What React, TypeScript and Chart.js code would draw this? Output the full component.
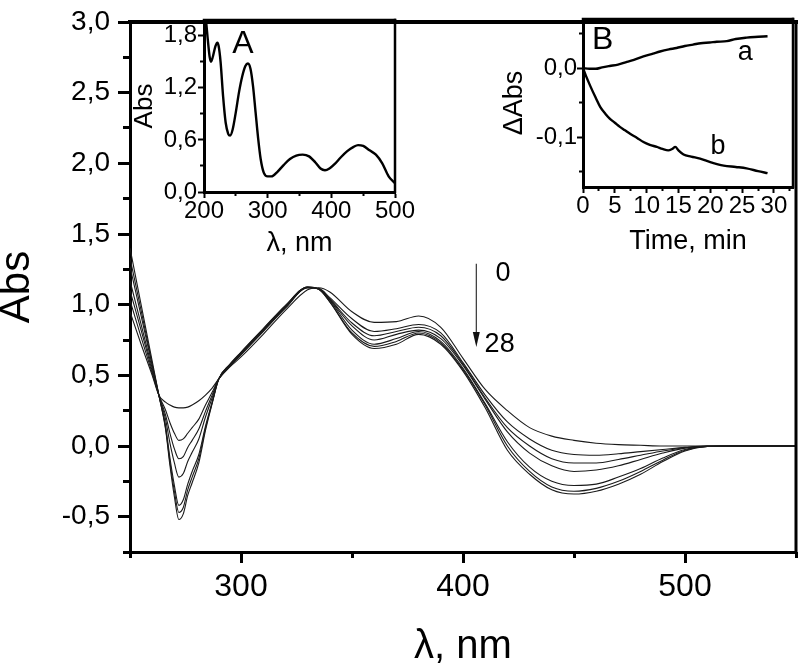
import React, { useEffect, useRef } from 'react';
import { Chart, registerables } from 'chart.js';

Chart.register(...registerables);

const FONT = "'Liberation Sans', Arial, Helvetica, sans-serif";

// ---------- Main chart data (wavelength, nm) ----------
const WL = [250, 255, 260, 263, 266, 268, 270, 272, 274, 276, 278, 281, 284, 287, 290, 295, 300, 310, 320, 330, 335, 340, 350, 360, 370, 380, 390, 400, 410, 420, 430, 440, 450, 460, 470, 480, 490, 500, 510, 520, 535, 550];
const T0 = [0.95, 0.72, 0.50, 0.36, 0.31, 0.29, 0.275, 0.27, 0.27, 0.275, 0.29, 0.32, 0.36, 0.41, 0.475, 0.56, 0.63, 0.79, 0.96, 1.105, 1.12, 1.09, 0.95, 0.875, 0.88, 0.92, 0.84, 0.62, 0.40, 0.25, 0.13, 0.07, 0.04, 0.02, 0.01, 0.005, 0.0, 0.0, 0.0, 0.0, 0.0, 0.0];
const T1 = [1.03, 0.77, 0.515, 0.36, 0.255, 0.165, 0.09, 0.04, 0.05, 0.09, 0.13, 0.19, 0.29, 0.38, 0.475, 0.565, 0.645, 0.81, 0.975, 1.12, 1.115, 1.05, 0.90, 0.81, 0.83, 0.86, 0.80, 0.59, 0.36, 0.17, 0.05, -0.03, -0.06, -0.065, -0.055, -0.04, -0.025, -0.01, 0.0, 0.0, 0.0, 0.0];
const T2 = [1.10, 0.82, 0.53, 0.36, 0.22, 0.09, -0.02, -0.09, -0.075, -0.01, 0.04, 0.12, 0.245, 0.36, 0.475, 0.565, 0.65, 0.815, 0.98, 1.12, 1.11, 1.04, 0.87, 0.78, 0.81, 0.84, 0.78, 0.58, 0.34, 0.13, 0.0, -0.09, -0.12, -0.12, -0.095, -0.065, -0.035, -0.012, -0.002, 0.0, 0.0, 0.0];
const T3 = [1.17, 0.86, 0.55, 0.36, 0.19, 0.02, -0.12, -0.22, -0.195, -0.11, -0.045, 0.05, 0.205, 0.34, 0.475, 0.57, 0.655, 0.82, 0.985, 1.12, 1.11, 1.035, 0.85, 0.75, 0.79, 0.82, 0.76, 0.57, 0.33, 0.10, -0.05, -0.14, -0.18, -0.17, -0.14, -0.095, -0.05, -0.015, -0.002, 0.0, 0.0, 0.0];
const T4 = [1.27, 0.92, 0.57, 0.36, 0.145, -0.085, -0.28, -0.42, -0.38, -0.27, -0.18, -0.06, 0.14, 0.31, 0.475, 0.575, 0.66, 0.825, 0.99, 1.125, 1.11, 1.03, 0.82, 0.72, 0.76, 0.81, 0.74, 0.55, 0.30, 0.03, -0.15, -0.25, -0.28, -0.27, -0.22, -0.16, -0.085, -0.025, -0.003, 0.0, 0.0, 0.0];
const T5 = [1.33, 0.96, 0.58, 0.36, 0.13, -0.115, -0.32, -0.47, -0.435, -0.31, -0.22, -0.09, 0.125, 0.305, 0.475, 0.575, 0.66, 0.825, 0.99, 1.125, 1.11, 1.02, 0.80, 0.705, 0.74, 0.80, 0.73, 0.54, 0.29, 0.0, -0.18, -0.29, -0.32, -0.30, -0.25, -0.18, -0.10, -0.03, -0.003, 0.0, 0.0, 0.0];
const T6 = [1.40, 1.00, 0.60, 0.36, 0.12, -0.14, -0.36, -0.52, -0.48, -0.35, -0.26, -0.12, 0.11, 0.30, 0.475, 0.58, 0.665, 0.83, 0.995, 1.125, 1.11, 1.02, 0.79, 0.69, 0.72, 0.79, 0.72, 0.53, 0.27, -0.03, -0.20, -0.31, -0.34, -0.32, -0.27, -0.20, -0.11, -0.035, -0.004, 0.0, 0.0, 0.0];
const MAIN_SERIES = [T0, T1, T2, T3, T4, T5, T6];

const MAIN_X_MAJOR = [300, 400, 500];
const MAIN_X_MINOR = [250, 350, 450, 550];
const MAIN_Y_MAJOR = [-0.5, 0, 0.5, 1.0, 1.5, 2.0, 2.5, 3.0];
const MAIN_Y_MINOR = [-0.75, -0.25, 0.25, 0.75, 1.25, 1.75, 2.25, 2.75];

const ARROW_X = 406;
const ARROW_FROM = 1.29;
const ARROW_TO = 0.70;
const ARROW_LABELS = [
  { text: '0', x: 418, y: 1.22 },
  { text: '28', x: 416.5, y: 0.72 },
];

// ---------- Inset A data ----------
const A_WL = [200, 203, 206, 209, 211, 214, 218, 221, 223, 226, 230, 234, 238, 241, 245, 250, 255, 260, 265, 269, 273, 277, 281, 285, 289, 294, 300, 306, 315, 325, 335, 345, 355, 365, 375, 383, 390, 397, 405, 415, 425, 435, 442, 450, 460, 470, 480, 490, 500];
const A_ABS = [2.10, 1.98, 1.75, 1.55, 1.50, 1.56, 1.68, 1.72, 1.68, 1.50, 1.10, 0.80, 0.67, 0.65, 0.72, 0.92, 1.15, 1.33, 1.45, 1.48, 1.42, 1.22, 0.92, 0.62, 0.38, 0.22, 0.18, 0.18, 0.23, 0.31, 0.38, 0.42, 0.43, 0.41, 0.34, 0.27, 0.25, 0.27, 0.32, 0.40, 0.47, 0.52, 0.54, 0.53, 0.48, 0.43, 0.33, 0.18, 0.10];
const A_X_MAJOR = [200, 300, 400, 500];
const A_X_MINOR = [250, 350, 450];
const A_Y_MAJOR = [0, 0.6, 1.2, 1.8];
const A_Y_MINOR = [0.3, 0.9, 1.5];
const A_LABELS = [{ text: 'A', x: 261, y: 1.70 }];

// ---------- Inset B data ----------
const B_TIME_A = [0, 1, 2, 3, 4.2, 5.5, 6.9, 8, 9.5, 11, 12.1, 13.5, 14.7, 16, 17.3, 18.5, 19.9, 21, 22.6, 24, 25.7, 27, 29];
const B_DABS_A = [0, -0.001, -0.001, 0.001, 0.003, 0.005, 0.009, 0.012, 0.017, 0.021, 0.024, 0.027, 0.029, 0.032, 0.034, 0.036, 0.037, 0.038, 0.039, 0.042, 0.044, 0.045, 0.046];
const B_TIME_B = [0, 0.5, 1.1, 2, 2.7, 3.5, 4.2, 5, 5.8, 6.6, 7.4, 8.5, 9.5, 10.5, 11.6, 12.5, 13.4, 14, 14.5, 15, 15.8, 17, 18.4, 20, 22.1, 24, 25.7, 27.5, 29];
const B_DABS_B = [0, -0.012, -0.025, -0.043, -0.056, -0.066, -0.073, -0.079, -0.085, -0.090, -0.095, -0.101, -0.107, -0.111, -0.114, -0.117, -0.119, -0.117, -0.114, -0.119, -0.125, -0.128, -0.131, -0.136, -0.141, -0.143, -0.145, -0.149, -0.152];
const B_X_MAJOR = [0, 5, 10, 15, 20, 25, 30];
const B_X_MINOR = [2.5, 7.5, 12.5, 17.5, 22.5, 27.5, 32.5];
const B_Y_MAJOR = [0, -0.1];
const B_Y_MINOR = [0.05, -0.05, -0.15];
const B_LABELS = [
  { text: 'B', x: 3.1, y: 0.041, size: 32 },
  { text: 'a', x: 25.5, y: 0.022, size: 27 },
  { text: 'b', x: 21.2, y: -0.114, size: 27 },
];

const fmtComma = (v: number) => v.toFixed(1).replace('.', ',');
const fmtInt = (v: number) => String(Math.round(v));

type AxisSpec = {
  min: number; max: number; major: number[]; minor: number[];
  fmt: (v: number) => string; size: number; majorLen: number; minorLen: number;
  pad: number; fontSize: number; title: string; titleSize: number; titlePad: number;
  titleLH?: number;
};

function buildScales(xs: AxisSpec, ys: AxisSpec, borderW: number, tickW: number) {
  return {
    x: {
      type: 'linear', position: 'bottom', min: xs.min, max: xs.max,
      afterBuildTicks: (s: any) => { s.ticks = xs.major.map((v) => ({ value: v })); },
      afterFit: (s: any) => { s.height = xs.size; },
      ticks: {
        color: '#000', font: { family: FONT, size: xs.fontSize, lineHeight: 1 }, padding: xs.pad,
        maxRotation: 0, autoSkip: false, callback: (v: any) => xs.fmt(Number(v)),
      },
      grid: { drawOnChartArea: false, drawTicks: true, tickLength: xs.majorLen, tickWidth: tickW, tickColor: '#000' },
      border: { display: true, width: borderW, color: '#000' },
      title: {
        display: true, text: xs.title, color: '#000',
        font: { family: FONT, size: xs.titleSize, lineHeight: xs.titleLH ?? 1 },
        padding: { top: 0, bottom: xs.titlePad },
      },
    },
    x2: {
      type: 'linear', axis: 'x', position: { y: ys.min }, min: xs.min, max: xs.max,
      afterBuildTicks: (s: any) => { s.ticks = xs.minor.map((v) => ({ value: v })); },
      ticks: { display: false },
      grid: { drawOnChartArea: false, drawTicks: true, tickLength: xs.minorLen, tickWidth: tickW, tickColor: '#000' },
      border: { display: false },
    },
    y: {
      type: 'linear', position: 'left', min: ys.min, max: ys.max,
      afterBuildTicks: (s: any) => { s.ticks = ys.major.map((v) => ({ value: v })); },
      afterFit: (s: any) => { s.width = ys.size; },
      ticks: {
        color: '#000', font: { family: FONT, size: ys.fontSize, lineHeight: 1 }, padding: ys.pad,
        autoSkip: false, callback: (v: any) => ys.fmt(Number(v)),
      },
      grid: { drawOnChartArea: false, drawTicks: true, tickLength: ys.majorLen, tickWidth: tickW, tickColor: '#000' },
      border: { display: true, width: borderW, color: '#000' },
      title: {
        display: true, text: ys.title, color: '#000',
        font: { family: FONT, size: ys.titleSize, lineHeight: ys.titleLH ?? 1 },
        padding: { top: ys.titlePad, bottom: 0 },
      },
    },
    y2: {
      type: 'linear', axis: 'y', position: { x: xs.min }, min: ys.min, max: ys.max,
      afterBuildTicks: (s: any) => { s.ticks = ys.minor.map((v) => ({ value: v })); },
      ticks: { display: false },
      grid: { drawOnChartArea: false, drawTicks: true, tickLength: ys.minorLen, tickWidth: tickW, tickColor: '#000' },
      border: { display: false },
    },
  };
}

// Frame lines along top and right of the plot area
const framePlugin = {
  id: 'frame',
  afterDraw(chart: any, _args: any, opts: any) {
    const { ctx, chartArea } = chart;
    const { left, right, top, bottom } = chartArea;
    ctx.save();
    ctx.strokeStyle = '#000';
    ctx.lineCap = 'square';
    ctx.lineWidth = opts.top || 2;
    ctx.beginPath();
    ctx.moveTo(left, top);
    ctx.lineTo(right, top);
    ctx.stroke();
    ctx.lineWidth = opts.right || 2;
    ctx.beginPath();
    ctx.moveTo(right, top);
    ctx.lineTo(right, bottom);
    ctx.stroke();
    ctx.restore();
  },
};

// Text labels placed in data coordinates
const textPlugin = {
  id: 'dataText',
  afterDatasetsDraw(chart: any, _args: any, opts: any) {
    const items = opts.items || [];
    const { ctx, scales } = chart;
    ctx.save();
    ctx.fillStyle = '#000';
    ctx.textAlign = 'center';
    ctx.textBaseline = 'middle';
    items.forEach((it: any) => {
      ctx.font = `${it.size || opts.size || 27}px ${FONT}`;
      ctx.fillText(it.text, scales.x.getPixelForValue(it.x), scales.y.getPixelForValue(it.y));
    });
    ctx.restore();
  },
};

// Arrow (time direction) in data coordinates
const arrowPlugin = {
  id: 'timeArrow',
  afterDatasetsDraw(chart: any, _args: any, opts: any) {
    if (!opts || opts.x === undefined) return;
    const { ctx, scales } = chart;
    const ax = scales.x.getPixelForValue(opts.x);
    const y1 = scales.y.getPixelForValue(opts.from);
    const y2 = scales.y.getPixelForValue(opts.to);
    ctx.save();
    ctx.strokeStyle = '#333';
    ctx.fillStyle = '#111';
    ctx.lineWidth = 1.2;
    ctx.beginPath();
    ctx.moveTo(ax, y1);
    ctx.lineTo(ax, y2 - 12);
    ctx.stroke();
    ctx.beginPath();
    ctx.moveTo(ax - 3.5, y2 - 15);
    ctx.lineTo(ax + 3.5, y2 - 15);
    ctx.lineTo(ax, y2);
    ctx.closePath();
    ctx.fill();
    ctx.restore();
  },
};

function zip(xs: number[], ys: number[]) {
  return xs.map((x, i) => ({ x, y: ys[i] }));
}

export default function App() {
  const mainRef = useRef<HTMLCanvasElement>(null);
  const aRef = useRef<HTMLCanvasElement>(null);
  const bRef = useRef<HTMLCanvasElement>(null);

  useEffect(() => {
    const charts: Chart[] = [];

    // Main chart
    const mainScales = buildScales(
      { min: 250, max: 550, major: MAIN_X_MAJOR, minor: MAIN_X_MINOR, fmt: fmtInt, size: 117, majorLen: 11, minorLen: 6, pad: 8, fontSize: 32, title: 'λ, nm', titleSize: 40, titlePad: 2 },
      { min: -0.75, max: 3.0, major: MAIN_Y_MAJOR, minor: MAIN_Y_MINOR, fmt: fmtComma, size: 130, majorLen: 12, minorLen: 7, pad: 8, fontSize: 28, title: 'Abs', titleSize: 42, titlePad: 0, titleLH: 0.85 },
      3, 3,
    );
    charts.push(new Chart(mainRef.current!, {
      type: 'line',
      data: {
        datasets: MAIN_SERIES.map((s, i) => ({
          label: `t${i}`,
          data: zip(WL, s),
          borderColor: '#1a1a1a',
          borderWidth: 1.1,
          pointRadius: 0,
          fill: false,
          cubicInterpolationMode: 'monotone',
        })),
      },
      options: {
        animation: false,
        responsive: false,
        maintainAspectRatio: false,
        parsing: false,
        layout: { padding: { left: 0, right: 4, top: 16, bottom: 0 } },
        plugins: {
          legend: { display: false },
          tooltip: { enabled: false },
          frame: { top: 4, right: 3 },
          timeArrow: { x: ARROW_X, from: ARROW_FROM, to: ARROW_TO },
          dataText: { items: ARROW_LABELS, size: 27 },
        } as any,
        scales: mainScales as any,
      },
      plugins: [framePlugin, arrowPlugin, textPlugin],
    } as any));

    // Inset A
    const aScales = buildScales(
      { min: 200, max: 500, major: A_X_MAJOR, minor: A_X_MINOR, fmt: fmtInt, size: 70, majorLen: 6, minorLen: 4, pad: 1, fontSize: 24, title: 'λ, nm', titleSize: 27, titlePad: 5 },
      { min: 0, max: 1.98, major: A_Y_MAJOR, minor: A_Y_MINOR, fmt: fmtComma, size: 74, majorLen: 6, minorLen: 4, pad: 1, fontSize: 24, title: 'Abs', titleSize: 26, titlePad: 2 },
      3, 2,
    );
    charts.push(new Chart(aRef.current!, {
      type: 'line',
      data: {
        datasets: [{
          label: 'A',
          data: zip(A_WL, A_ABS),
          borderColor: '#000',
          borderWidth: 2.4,
          pointRadius: 0,
          fill: false,
          cubicInterpolationMode: 'monotone',
        }],
      },
      options: {
        animation: false,
        responsive: false,
        maintainAspectRatio: false,
        parsing: false,
        layout: { padding: { left: 0, right: 35, top: 20, bottom: 0 } },
        plugins: {
          legend: { display: false },
          tooltip: { enabled: false },
          frame: { top: 2.5, right: 2.5 },
          dataText: { items: A_LABELS, size: 32 },
        } as any,
        scales: aScales as any,
      },
      plugins: [framePlugin, textPlugin],
    } as any));

    // Inset B
    const bScales = buildScales(
      { min: 0, max: 33, major: B_X_MAJOR, minor: B_X_MINOR, fmt: fmtInt, size: 75, majorLen: 6, minorLen: 4, pad: 1, fontSize: 24, title: 'Time, min', titleSize: 27, titlePad: 7 },
      { min: -0.172, max: 0.071, major: B_Y_MAJOR, minor: B_Y_MINOR, fmt: fmtComma, size: 103, majorLen: 6, minorLen: 4, pad: 0, fontSize: 24, title: 'ΔAbs', titleSize: 27, titlePad: 21 },
      3, 2,
    );
    charts.push(new Chart(bRef.current!, {
      type: 'line',
      data: {
        datasets: [
          { label: 'a', data: zip(B_TIME_A, B_DABS_A), borderColor: '#000', borderWidth: 2.4, pointRadius: 0, fill: false, cubicInterpolationMode: 'monotone' },
          { label: 'b', data: zip(B_TIME_B, B_DABS_B), borderColor: '#000', borderWidth: 2.4, pointRadius: 0, fill: false, cubicInterpolationMode: 'monotone' },
        ],
      },
      options: {
        animation: false,
        responsive: false,
        maintainAspectRatio: false,
        parsing: false,
        layout: { padding: { left: 0, right: 5, top: 19, bottom: 0 } },
        plugins: {
          legend: { display: false },
          tooltip: { enabled: false },
          frame: { top: 2.5, right: 2.5 },
          dataText: { items: B_LABELS },
        } as any,
        scales: bScales as any,
      },
      plugins: [framePlugin, textPlugin],
    } as any));

    return () => { charts.forEach((c) => c.destroy()); };
  }, []);

  return (
    <div style={{ position: 'fixed', left: 0, top: 0, width: 800, height: 669, background: '#fff', overflow: 'hidden' }}>
      <canvas ref={mainRef} width={800} height={669} style={{ position: 'absolute', left: 0, top: 0, width: 800, height: 669 }} />
      <canvas ref={aRef} width={300} height={262} style={{ position: 'absolute', left: 130, top: 0, width: 300, height: 262 }} />
      <canvas ref={bRef} width={318} height={262} style={{ position: 'absolute', left: 480, top: 0, width: 318, height: 262 }} />
    </div>
  );
}
